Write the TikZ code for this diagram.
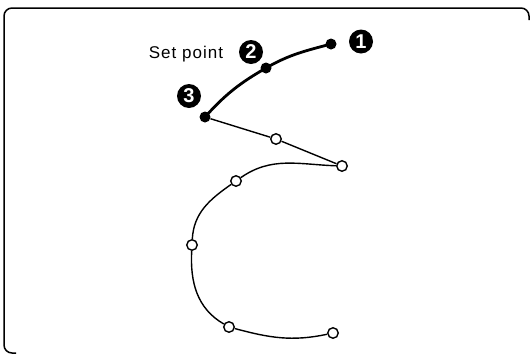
\documentclass[tikz,border=0pt]{standalone}
\usepackage{fontspec}
\setmainfont{Liberation Sans}
\begin{document}
\begin{tikzpicture}[x=1pt,y=-1pt,
  filldot/.style={circle,fill=black,inner sep=0pt,minimum size=11pt},
  opendot/.style={circle,draw=black,fill=white,line width=1.4pt,inner sep=0pt,minimum size=10.5pt},
  badge/.style={circle,fill=black,text=white,inner sep=0pt,minimum size=24pt,font=\fontsize{20}{20}\selectfont\bfseries},
  thickline/.style={line width=2.8pt},
  thinline/.style={line width=1.4pt}]
\useasboundingbox (0,0) rectangle (531,354);
% frame
\draw[line width=1.5pt,rounded corners=8pt] (16,353) -- (4,353) -- (4,8) -- (529,8) -- (529,20);
% points
\node[filldot] (p1) at (331,44) {};
\node[filldot] (p2) at (266,68) {};
\node[filldot] (p3) at (205,117) {};
\node[opendot] (p4) at (276,139) {};
\node[opendot] (p5) at (342,166) {};
\node[opendot] (p6) at (236,181) {};
\node[opendot] (p7) at (192,245) {};
\node[opendot] (p8) at (229,327) {};
\node[opendot] (p9) at (333,333) {};
% connectors
\draw[thickline] (p1.center) to[out=195,in=30] (p2.center) to[out=210,in=48] (p3.center);
\draw[thinline] (p3) -- (p4) -- (p5);
\draw[thinline] (p5) to[out=178,in=35] (p6);
\draw[thinline] (p6) to[out=215,in=87] (p7);
\draw[thinline] (p7) to[out=267,in=150] (p8);
\draw[thinline] (p8) to[out=-15,in=192] (p9);
% labels
\node[badge] (b1) at (361,41.5) {1};
\node[badge] (b2) at (251,52) {2};
\node[badge] (b3) at (189,96) {3};
\node[font=\fontsize{17}{17}\selectfont\addfontfeature{LetterSpace=6}] (sp) at (186,54) {Set point};
\end{tikzpicture}
\end{document}
